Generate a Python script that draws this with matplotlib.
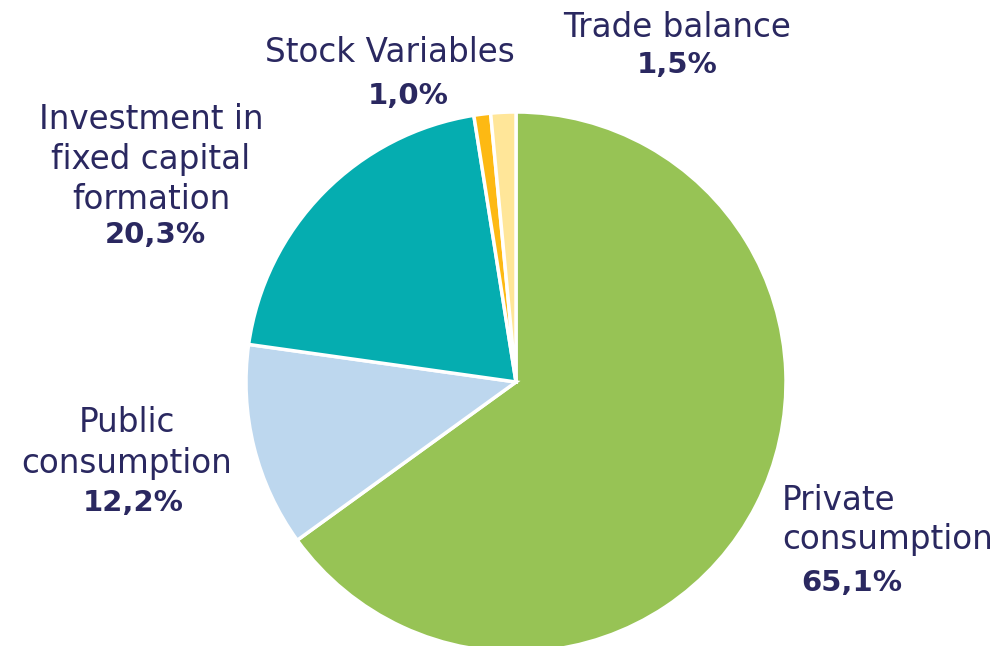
import matplotlib.pyplot as plt

labels = ['Private\nconsumption', 'Public\nconsumption', 'Investment in\nfixed capital\nformation',
          'Stock Variables', 'Trade balance']
shares = [65.1, 12.2, 20.3, 1.0, 1.5]
pct_text = ['65,1%', '12,2%', '20,3%', '1,0%', '1,5%']
colors = ['#97C355', '#BDD7EE', '#05ADB0', '#FDB913', '#FFE699']

W, H = 1004, 646
navy = '#2A2860'
plt.rcParams['font.family'] = ['DejaVu Sans']

fig = plt.figure(figsize=(W / 100, H / 100), dpi=100)
ax = fig.add_axes([0, 0, 1, 1])

ax.pie(shares, colors=colors, startangle=90, counterclock=False,
       center=(516, H - 382), radius=270, frame=True,
       wedgeprops=dict(edgecolor='white', linewidth=2.5))
ax.set_xlim(0, W)
ax.set_ylim(0, H)
ax.set_aspect('equal')
ax.axis('off')

# label name lines: (x, y of first line in px, alignment), percent position
name_pos = [(782, 500, 'left'), (127, 423, 'center'), (151, 119, 'center'),
             (390, 52, 'center'), (677, 27, 'center')]
pct_pos = [(852, 583), (133, 503), (155, 235), (408, 96), (677, 65)]
line_step = 40

for i, lab in enumerate(labels):
    x, y, ha = name_pos[i]
    for j, line in enumerate(lab.split('\n')):
        ax.text(x, H - (y + j * line_step), line, ha=ha, va='center',
                fontsize=23.5, color=navy)
    px, py = pct_pos[i]
    ax.text(px, H - py, pct_text[i], ha='center', va='center',
            fontsize=21, fontweight='bold', color=navy)

fig.savefig('out.png', dpi=100)
